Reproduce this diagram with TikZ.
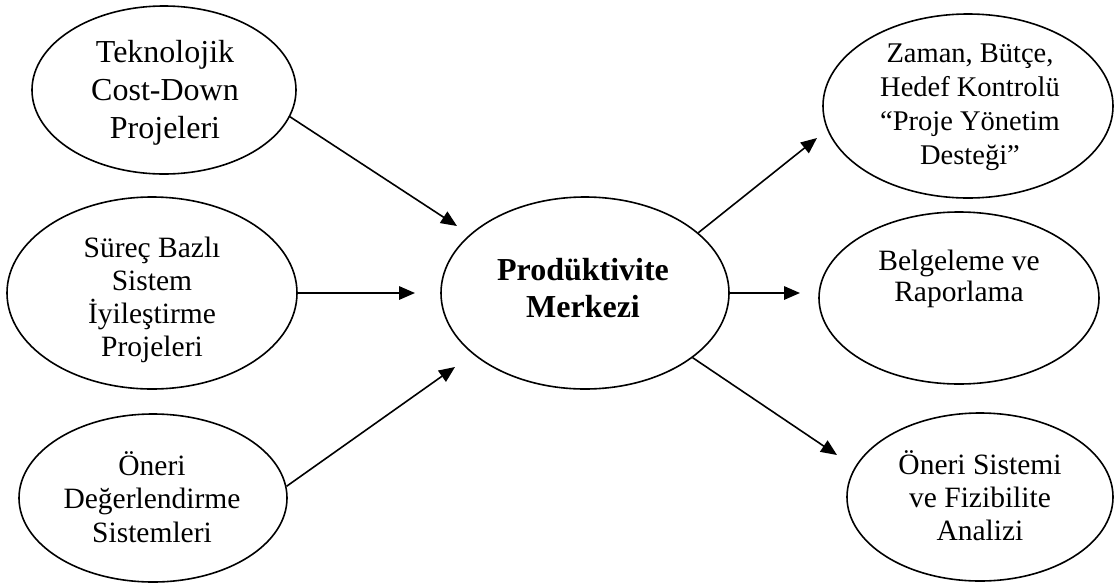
\documentclass[tikz,border=0pt]{standalone}
\usepackage{fontspec}
\setmainfont{Liberation Serif}
\usetikzlibrary{shapes.geometric,arrows.meta}
\begin{document}
\begin{tikzpicture}[x=1pt,y=-1pt,
  oval/.style={draw,ellipse,line width=1.6pt,inner sep=0pt},
  lbl/.style={align=center,inner sep=0pt},
  flow/.style={line width=1.6pt,-{Triangle[length=16pt,width=13.5pt]}}]
\useasboundingbox (0,0) rectangle (1117,582);

% input ovals (left column)
\node[oval,minimum width=264pt,minimum height=168pt] (tek) at (164,90) {};
\node[oval,minimum width=290pt,minimum height=192pt] (sur) at (152,293) {};
\node[oval,minimum width=268pt,minimum height=168pt] (ond) at (153,498) {};

% centre oval
\node[oval,minimum width=288pt,minimum height=192pt] (mid) at (585,293) {};

% output ovals (right column)
\node[oval,minimum width=290pt,minimum height=184pt] (zam) at (968,106) {};
\node[oval,minimum width=280pt,minimum height=172pt] (bel) at (959,298) {};
\node[oval,minimum width=266pt,minimum height=168pt] (ons) at (980,497) {};

% labels
\node[lbl,font=\fontsize{32}{38}\selectfont] (tek-t) at (165,93) {Teknolojik\\Cost-Down\\Projeleri};
\node[lbl,font=\fontsize{29.5}{33}\selectfont] (sur-t) at (152,300) {Süreç Bazlı\\Sistem\\İyileştirme\\Projeleri};
\node[lbl,font=\fontsize{29.5}{33.5}\selectfont] (ond-t) at (152,497) {Öneri\\Değerlendirme\\Sistemleri};
\node[lbl,font=\fontsize{32}{37}\selectfont\bfseries] (mid-t) at (583,288) {Prodüktivite\\Merkezi};
\node[lbl,font=\fontsize{28.5}{34}\selectfont] (zam-t) at (970,107) {Zaman, Bütçe,\\Hedef Kontrolü\\“Proje Yönetim\\Desteği”};
\node[lbl,font=\fontsize{29.5}{31}\selectfont] (bel-t) at (959,279) {Belgeleme ve\\Raporlama};
\node[lbl,font=\fontsize{29.5}{33}\selectfont] (ons-t) at (980,496) {Öneri Sistemi\\ve Fizibilite\\Analizi};

% arrow tips (free ends)
\coordinate (t1) at (457,226);
\coordinate (t2) at (415,293);
\coordinate (t3) at (455,367);
\coordinate (t4) at (817,138);
\coordinate (t5) at (800,293);
\coordinate (t6) at (837,455);

% connectors
\draw[flow] (tek.-12) -- (t1);
\draw[flow] (sur.east) -- (t2);
\draw[flow] (ond.5) -- (t3);
\draw[flow] (mid.28) -- (t4);
\draw[flow] (mid.east) -- (t5);
\draw[flow] (mid.-31) -- (t6);
\end{tikzpicture}
\end{document}
